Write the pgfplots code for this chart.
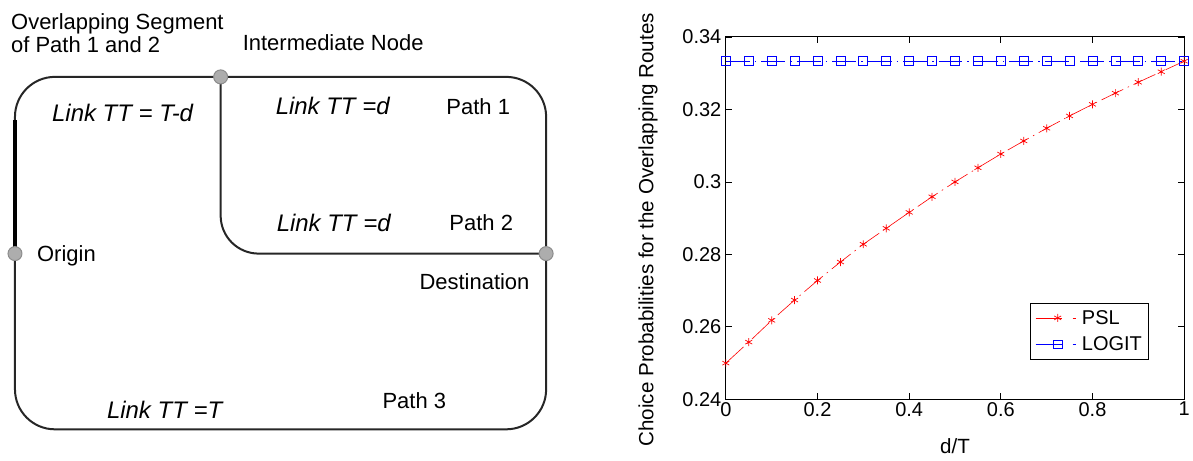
\documentclass[border=0pt]{standalone}
\usepackage{fontspec}
\setmainfont{Liberation Sans}
\usepackage{pgfplots}
\pgfplotsset{compat=1.18}
\pgfplotstableread{
x psl logit
0 0.2500 0.3333
0.05 0.2558 0.3333
0.10 0.2618 0.3333
0.15 0.2674 0.3333
0.20 0.2728 0.3333
0.25 0.2779 0.3333
0.30 0.2828 0.3333
0.35 0.2872 0.3333
0.40 0.2916 0.3333
0.45 0.2959 0.3333
0.50 0.3000 0.3333
0.55 0.3039 0.3333
0.60 0.3077 0.3333
0.65 0.3113 0.3333
0.70 0.3148 0.3333
0.75 0.3182 0.3333
0.80 0.3214 0.3333
0.85 0.3245 0.3333
0.90 0.3275 0.3333
0.95 0.3304 0.3333
1.00 0.3333 0.3333
}\datatable
\begin{document}
\begin{tikzpicture}
\path (0pt,0pt) rectangle (1193pt,461pt);
\begin{scope}[yshift=461pt,x=1pt,y=-1pt]
  \draw[line width=2pt, black!85, rounded corners=40pt] (15,77) rectangle (547,430);
  \draw[line width=2pt, black!85, rounded corners=38pt] (221,77) -- (221,254) -- (547,254);
  \draw[line width=4pt, black] (15,120) -- (15,250);
  \foreach \p in {(221,77),(15,254),(547,254)}
    \filldraw[fill=black!32, draw=black!45, line width=1pt] \p circle[radius=7pt];
  \tikzset{lab/.style={anchor=base west, inner sep=0pt, font=\fontsize{22}{24}\selectfont},
           ita/.style={anchor=base west, inner sep=0pt, font=\fontsize{24}{27}\selectfont\itshape}}
  \node[lab] at (11,30) {Overlapping Segment};
  \node[lab] at (11,53) {of Path 1 and 2};
  \node[lab] at (243,51) {Intermediate Node};
  \node[ita] at (52,122) {Link TT = T-d};
  \node[ita] at (276,115) {Link TT =d};
  \node[lab] at (447,115) {Path 1};
  \node[ita] at (277,232) {Link TT =d};
  \node[lab] at (450,231) {Path 2};
  \node[lab] at (37,262) {Origin};
  \node[lab] at (420,290) {Destination};
  \node[lab] at (383,409) {Path 3};
  \node[ita] at (107,419) {Link TT =T};
\end{scope}
\begin{axis}[
  at={(727pt,61pt)}, anchor=south west,
  scale only axis, width=459pt, height=363pt,
  xmin=0, xmax=1, ymin=0.24, ymax=0.34,
  xtick={0,0.2,0.4,0.6,0.8,1}, xticklabels={0,0.2,0.4,0.6,0.8,1},
  ytick={0.24,0.26,0.28,0.30,0.32,0.34}, yticklabels={0.24,0.26,0.28,0.3,0.32,0.34},
  xtick pos=both, ytick pos=both, xticklabel pos=lower, yticklabel pos=left,
  tick align=inside, major tick length=6pt,
  axis line style={line width=0.9pt, black},
  every tick/.style={black, line width=0.8pt},
  tick label style={font=\fontsize{20}{23}\selectfont},
  yticklabel style={xshift=-1pt, inner ysep=0pt},
  xticklabel style={yshift=-1.5pt, inner ysep=1pt},
  /pgf/number format/assume math mode=true,
  xlabel={d/T}, ylabel={Choice Probabilities for the Overlapping Routes},
  label style={font=\fontsize{20.6}{24}\selectfont, inner sep=0pt},
  xlabel style={at={(axis description cs:0.5,-0.130)}, anchor=center},
  ylabel style={at={(axis description cs:-0.170,0.468)}, anchor=center, rotate=0},
  legend style={at={(rel axis cs:0.924,0.110)}, anchor=south east,
     font=\fontsize{20}{23}\selectfont, draw=black, line width=0.9pt,
     inner xsep=5pt, inner ysep=5pt, row sep=7pt},
  legend cell align=left,
  legend image code/.code={
     \draw[#1,solid] (0pt,0pt) -- (26pt,0pt);
     \draw[#1,solid] (37pt,0pt) -- (40pt,0pt);
     \path (44pt,0pt);
     \draw[#1,solid,only marks] plot coordinates {(22pt,0pt)};
  },
]
\addplot[red, line width=0.6pt, dash pattern=on 24pt off 5pt on 1.5pt off 5pt,
  mark=asterisk, mark size=4pt, mark options={solid, line width=0.7pt}]
  table[x=x,y=psl] {\datatable};
\addlegendentry{PSL}
\addplot[blue, line width=0.6pt, dash pattern=on 24pt off 5pt on 1.5pt off 5pt,
  mark=square, mark size=4.5pt, mark options={solid, line width=0.7pt}]
  table[x=x,y=logit] {\datatable};
\addlegendentry{LOGIT}
\end{axis}
\end{tikzpicture}
\end{document}
